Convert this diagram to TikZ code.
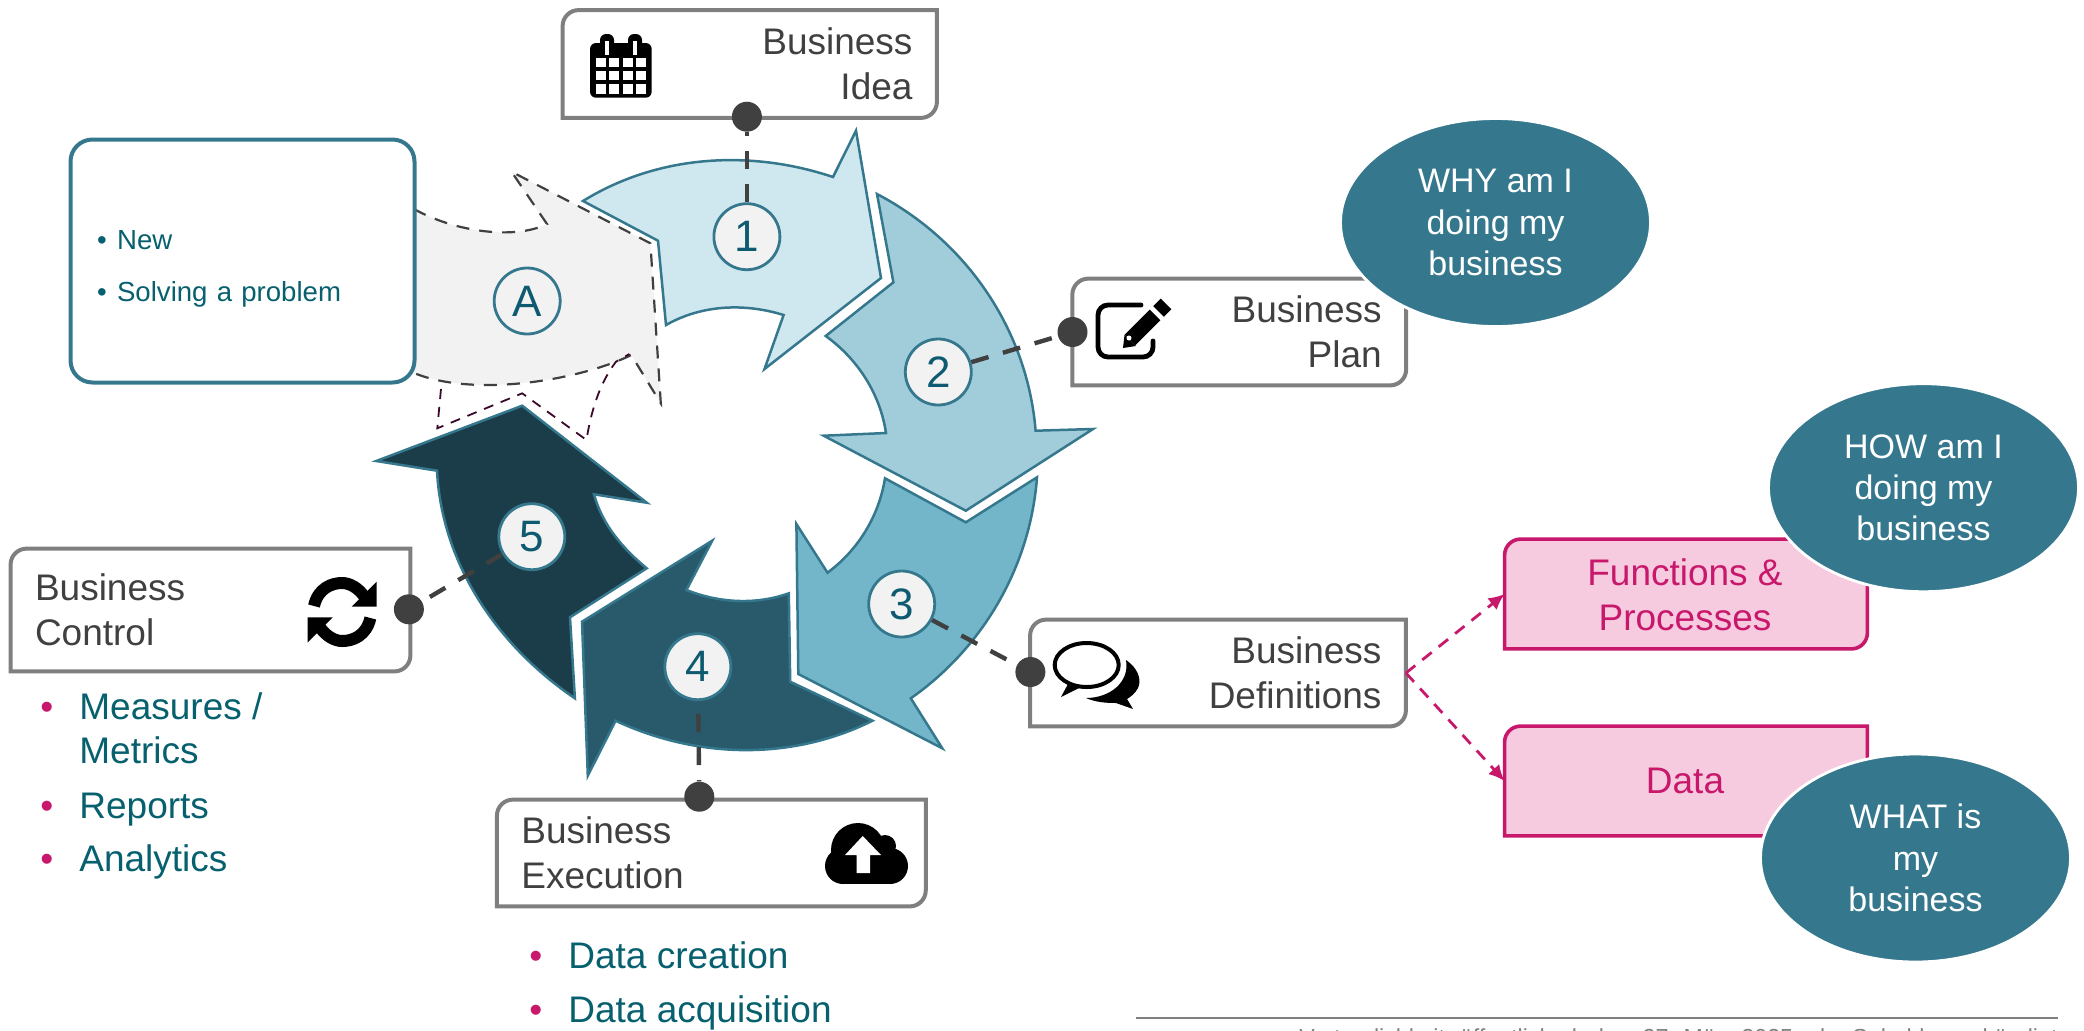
\documentclass[tikz,border=0pt]{standalone}
\usepackage{fontspec}
\setmainfont{Liberation Sans}
\usetikzlibrary{shapes.geometric,arrows.meta,calc}
\definecolor{ringedge}{HTML}{35788E}
\definecolor{ringone}{HTML}{CFE7EF}
\definecolor{ringtwo}{HTML}{A1CDDB}
\definecolor{ringthree}{HTML}{73B6CA}
\definecolor{ringfour}{HTML}{285A6B}
\definecolor{ringfive}{HTML}{1B3D49}
\definecolor{stagetext}{HTML}{0E5A70}
\definecolor{ghostfill}{HTML}{F2F2F2}
\definecolor{ghostline}{HTML}{3B0A2A}
\definecolor{darktext}{HTML}{404040}
\definecolor{framegrey}{HTML}{7F7F7F}
\definecolor{tealtext}{HTML}{07606E}
\definecolor{pinkline}{HTML}{C8186C}
\definecolor{pinkfill}{HTML}{F6CBDF}
\tikzstyle{ring} = [draw=ringedge, line width=1.25pt, miter limit=10]
\tikzstyle{ghost} = [draw=darktext, fill=ghostfill, line width=1.1pt, dash pattern=on 6.5pt off 5pt, miter limit=10]
\tikzstyle{ghostedge} = [draw=ghostline, line width=.9pt, dash pattern=on 5pt off 4pt]
\tikzstyle{stage} = [draw=ringedge, fill=ghostfill, circle, line width=1.4pt, minimum size=33pt, inner sep=0pt, text=stagetext, font=\fontsize{22}{22}\selectfont]
\tikzstyle{dot} = [fill=darktext, circle, minimum size=15pt, inner sep=0pt]
\tikzstyle{link} = [draw=darktext, line width=2.2pt, dash pattern=on 9pt off 7.5pt]
\tikzstyle{bizbox} = [inner xsep=12pt, inner ysep=0pt, text=darktext, font=\fontsize{18.5}{22.5}\selectfont]
\tikzstyle{pinkbox} = [inner sep=0pt, text=pinkline, align=center, minimum width=181pt, font=\fontsize{18.5}{22.5}\selectfont]
\tikzstyle{frame} = [draw=framegrey, line width=2pt]
\tikzstyle{pinkframe} = [draw=pinkline, fill=pinkfill, line width=1.8pt]
\tikzstyle{question} = [draw=white, fill=ringedge, ellipse, line width=1.4pt, minimum width=155pt, minimum height=104pt, inner sep=0pt, text=white, align=center, font=\fontsize{17}{20.7}\selectfont]
\tikzstyle{bullets} = [inner sep=0pt, anchor=west, align=left, text=tealtext, font=\fontsize{18.5}{22}\selectfont]
\tikzstyle{line} = [draw=pinkline, -{Latex[length=8pt,width=7.5pt]}, line width=1.4pt, dash pattern=on 6pt off 4.5pt]
\newcommand{\diagframe}[2]{\path[#1] (#2.west) [rounded corners=8pt] -- (#2.north west) [sharp corners] -- (#2.north east) [rounded corners=8pt] -- (#2.south east) [sharp corners] -- (#2.south west) -- cycle;}
\newcommand{\bul}{\textcolor{pinkline}{\makebox[19.5pt][l]{•}}}
\begin{document}
\begin{tikzpicture}[x=.5pt, y=-.5pt]
        \useasboundingbox (0,0) rectangle (2084,1030);
        \path[ghost] (414,209) .. controls (455,232) and (515,240) .. (547,224) -- (511.5,171.7) -- (650.4,243.3) -- (660.8,403.3) -- (631.3,355) .. controls (580,380) and (475,398) .. (414,373) -- cycle;
        \draw[ghostedge] (441,389) -- (437.3,428.3) -- (522.2,393.3) -- (586.5,440) .. controls (592,405) and (602,380) .. (616,361.7) -- (629.4,354);
        \path[ring, fill=ringone] (583,201) .. controls (658.4,154.4) and (750.5,149.4) .. (833,177) -- (856,130.7) -- (881,278) -- (764.5,369) -- (783.6,315) .. controls (744.9,303) and (702,304.5) .. (666,325) -- (658,240.7) -- cycle;
        \path[ring, fill=ringtwo] (877,194) .. controls (966.4,240.9) and (1027.3,329.5) .. (1035.6,430.7) -- (1093,429) -- (965.8,510.7) -- (823.7,435.7) -- (886,433) .. controls (880.1,393.7) and (857.7,359) .. (825.7,336) -- (893.4,282.3) -- cycle;
        \path[ring, fill=ringthree] (885,478.3) -- (965.8,522.3) -- (1037,477.3) .. controls (1030.3,566.1) and (983.5,647.3) .. (910.8,698.3) -- (942.3,748.3) -- (798.3,674) -- (796.4,524) -- (827.5,572.7) .. controls (858.2,549.9) and (878.9,516.1) .. cycle;
        \path[ring, fill=ringfour] (872.5,720.7) -- (790.2,681.7) -- (788.8,593.3) .. controls (755.5,605.1) and (718.9,602.9) .. (686.4,590) -- (712.2,540.7) -- (582,621.7) -- (587.8,775.7) -- (615.6,720.7) .. controls (696.6,758.6) and (791.5,761.1) .. cycle;
        \path[ring, fill=ringfive] (646.7,568.3) .. controls (623.1,548.9) and (602.2,524.7) .. (594,494.3) -- (646.7,502.7) -- (522.2,405.7) -- (376.3,461) -- (437,470.7) .. controls (441.9,565.4) and (498.9,646.7) .. (574.9,698.3) -- (570,617.3) -- cycle;

        \node[bizbox, minimum height=53.5pt, text width=162.75pt, align=right] (idea) at (749.75,64) {Business\\Idea};
        \node[bizbox, minimum height=53pt, text width=142.5pt, align=right] (plan) at (1239.25,332) {Business\\Plan};
        \node[bizbox, minimum height=53pt, text width=163.5pt, align=right] (definitions) at (1218,673) {Business\\Definitions};
        \node[bizbox, minimum height=53pt, text width=190pt, align=left] (execution) at (711.35,853) {Business\\Execution};
        \node[bizbox, minimum height=61pt, text width=175.5pt, align=left] (control) at (210.5,610) {Business\\Control};
        \diagframe{frame}{idea}
        \diagframe{frame}{plan}
        \diagframe{frame}{definitions}
        \diagframe{frame}{execution}
        \diagframe{frame}{control}

        \node[draw=ringedge, fill=white, line width=2pt, rounded corners=11pt, minimum height=121.5pt, inner xsep=13.3pt, text width=145.4pt, align=left, text=tealtext, font=\fontsize{13.8}{26}\selectfont] (reasons) at (242.5,261) {\rule{0pt}{17.5pt}\makebox[10pt][l]{•}New\\\makebox[10pt][l]{•}Solving a problem};

        \node[dot] (ideadot) at (746.9,116.7) {};
        \node[dot] (plandot) at (1072.5,332) {};
        \node[dot] (defdot) at (1030.4,672) {};
        \node[dot] (execdot) at (699.3,796.7) {};
        \node[dot] (ctrldot) at (408.9,609.3) {};
        \node[stage] (one) at (746.9,236.7) {1};
        \node[stage] (two) at (938.3,372) {2};
        \node[stage] (three) at (901.7,604) {3};
        \node[stage] (four) at (697.8,666.7) {4};
        \node[stage] (five) at (531.8,536.7) {5};
        \node[stage] (start) at (527.2,301) {A};
        \path[link] (one) -- (ideadot);
        \path[link] (two) -- (plandot);
        \path[link] (three) -- (defdot);
        \path[link, dash phase=10pt] (four) -- (execdot);
        \path[link] (five) -- (ctrldot);

        \node[pinkbox, minimum height=54.5pt] (functions) at (1686,594) {};
        \node[pinkbox, minimum height=54.5pt] (data) at (1686,781) {};
        \diagframe{pinkframe}{functions}
        \diagframe{pinkframe}{data}
        \node[pinkbox] (functext) at (1685,595) {Functions \&\\Processes};
        \node[pinkbox] (datatext) at (1685,781) {Data};
        \path[line] (definitions.east) -- (functions.west);
        \path[line] (definitions.east) -- (data.west);
        \node[question] (why) at (1495.5,222.5) {WHY am I\\doing my\\business};
        \node[question] (how) at (1923.5,487.7) {HOW am I\\doing my\\business};
        \node[question] (what) at (1915.5,858) {WHAT is\\my\\business};

        \node[bullets] (ctrllist) at (40,786) {\bul Measures /\\\hspace*{19.5pt}Metrics\\[5.7pt]\bul Reports\\[4.5pt]\bul Analytics};
        \node[bullets] (execlist) at (529,986) {\bul Data creation\\[4.7pt]\bul Data acquisition};

        \fill[rounded corners=3pt] (590,43) rectangle (651.7,97.7);
        \fill[rounded corners=3pt] (600,34) rectangle (614,60);
        \fill[rounded corners=3pt] (628,34) rectangle (642,60);
        \fill[white] (605,41) rectangle (609,55);
        \fill[white] (633,41) rectangle (637,55);
        \foreach \cx in {596,609.3,622.6,636}
            \foreach \cy in {57.5,70.8,84.2}
                \fill[white] (\cx,\cy) rectangle +(10,9.5);

        \draw[line width=2.4pt, line cap=round, rounded corners=5pt] (1141,305) -- (1098,305) -- (1098,357) -- (1153,357) -- (1153,341);
        \draw[line width=7.5pt] (1130,340) -- (1155,315);
        \draw[line width=7.5pt] (1158.5,311.5) -- (1166,304);
        \fill (1123,348) -- (1124.5,335) -- (1136,346) -- cycle;
        \fill[white] (1129,338) circle (2.5);

        \draw[line width=2pt, fill=white] (1086.7,665) ellipse (32 and 22);
        \fill (1068,684) -- (1061,697) -- (1079,688) -- cycle;
        \fill (1126,660) .. controls (1138,668) and (1142,680) .. (1138,688) .. controls (1135,694) and (1130,697) .. (1127,699) -- (1133,709) -- (1116,703) .. controls (1105,703) and (1095,702) .. (1086,698) .. controls (1110,698) and (1130,682) .. cycle;

        \fill (858,850) circle (27);
        \fill (885,846) circle (11);
        \fill (843,866) circle (18);
        \fill (890,866) circle (18);
        \fill (843,855) rectangle (890,884);
        \fill[white] (862.7,836) -- (881,855) -- (870,855) -- (870,873) -- (856.7,873) -- (856.7,855) -- (845,855) -- cycle;

        \draw[line width=6pt] (314,606) .. controls (318,588) and (332,583) .. (342,583) .. controls (350,583) and (358,588) .. (364,596);
        \fill (376.7,581.7) -- (376.7,606.7) -- (351.7,606.7) -- cycle;
        \begin{scope}[rotate around={180:(342.2,612)}]
            \draw[line width=6pt] (314,606) .. controls (318,588) and (332,583) .. (342,583) .. controls (350,583) and (358,588) .. (364,596);
            \fill (376.7,581.7) -- (376.7,606.7) -- (351.7,606.7) -- cycle;
        \end{scope}

        \coordinate (footstart) at (1136,1018);
        \coordinate (footend) at (2058,1018);
        \draw[framegrey, line width=1.2pt] (footstart) -- (footend);
        \node[anchor=base east, inner sep=0pt, text=framegrey, font=\fontsize{11.6}{12}\selectfont] (footnote) at (2058,1045) {Vertraulichkeit: öffentlich ab dem 27. März 2025 oder Sobald angekündigt};
    \end{tikzpicture}
\end{document}
